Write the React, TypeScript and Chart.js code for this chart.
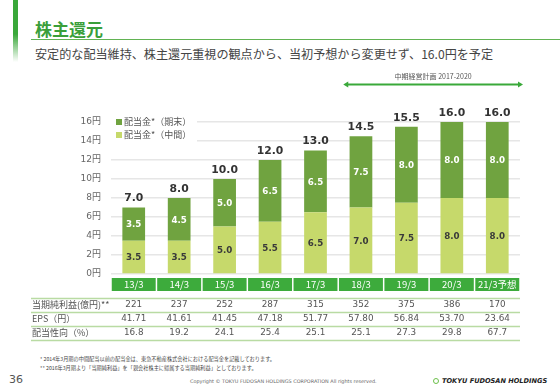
import React, { useEffect, useRef } from "react";
import { Chart, registerables } from "chart.js";

Chart.register(...registerables);

const categories = ["13/3", "14/3", "15/3", "16/3", "17/3", "18/3", "19/3", "20/3", "21/3予想"];
const interimDividend = [3.5, 3.5, 5.0, 5.5, 6.5, 7.0, 7.5, 8.0, 8.0];
const yearEndDividend = [3.5, 4.5, 5.0, 6.5, 6.5, 7.5, 8.0, 8.0, 8.0];
const netIncome = ["221", "237", "252", "287", "315", "352", "375", "386", "170"];
const eps = ["41.71", "41.61", "41.45", "47.18", "51.77", "57.80", "56.84", "53.70", "23.64"];
const payoutRatio = ["16.8", "19.2", "24.1", "25.4", "25.1", "25.1", "27.3", "29.8", "67.7"];
const tableLabels = ["当期純利益(億円)**", "EPS（円）", "配当性向（%）"];
const legendLabels = ["配当金*（期末）", "配当金*（中間）"];
const planLabel = "中期経営計画 2017-2020";
const planFirstIndex = 5;

const DARK = "#70a340";
const LIGHT = "#c6d96b";
const BOX = "#3dab3c";
const FONT = "'DejaVu Sans','Noto Sans CJK JP',sans-serif";
const JFONT = "'Noto Sans CJK JP','DejaVu Sans',sans-serif";

const overlay = {
  id: "overlay",
  afterDatasetsDraw(chart: any) {
    const { ctx, chartArea: a, scales } = chart;
    const x = scales.x;
    const step = x.getPixelForValue(1) - x.getPixelForValue(0);
    ctx.save();
    ctx.textAlign = "center";
    ctx.textBaseline = "middle";

    // segment labels
    chart.data.datasets.forEach((ds: any, di: number) => {
      const meta = chart.getDatasetMeta(di);
      meta.data.forEach((bar: any, i: number) => {
        const p = bar.getProps(["x", "y", "base"], true);
        ctx.font = `bold 8.7px ${FONT}`;
        ctx.fillStyle = di === 0 ? "#3a3a3a" : "#ffffff";
        ctx.fillText(Number(ds.data[i]).toFixed(1), p.x, (p.y + p.base) / 2 + 1);
      });
    });

    // totals
    const topMeta = chart.getDatasetMeta(1);
    topMeta.data.forEach((bar: any, i: number) => {
      const p = bar.getProps(["x", "y"], true);
      const total = interimDividend[i] + yearEndDividend[i];
      ctx.font = `bold 10.8px ${FONT}`;
      ctx.fillStyle = "#333333";
      ctx.fillText(total.toFixed(1), p.x, p.y - 9);
    });

    // legend
    ctx.fillStyle = "#ffffff";
    ctx.fillRect(a.left, a.top - 8, 86, 28);
    const lcolors = [DARK, LIGHT];
    legendLabels.forEach((t, i) => {
      const ly = a.top + i * 13;
      ctx.fillStyle = lcolors[i];
      ctx.fillRect(a.left + 5, ly - 3, 6, 6);
      ctx.fillStyle = "#555555";
      ctx.font = `9px ${JFONT}`;
      ctx.textAlign = "left";
      ctx.fillText(t, a.left + 13, ly);
    });
    ctx.textAlign = "center";

    // category boxes
    categories.forEach((c, i) => {
      const cx = x.getPixelForValue(i);
      ctx.fillStyle = BOX;
      ctx.fillRect(cx - step / 2 + 0.75, a.bottom + 4, step - 1.5, 13);
      ctx.fillStyle = "#ffffff";
      ctx.font = `9.5px ${JFONT}`;
      ctx.fillText(c, cx, a.bottom + 10.5);
    });

    // table
    const rows = [netIncome, eps, payoutRatio];
    const rowY = [a.bottom + 31, a.bottom + 45, a.bottom + 59];
    ctx.strokeStyle = "#b9dba3";
    ctx.lineWidth = 1.5;
    [a.bottom + 24.5, a.bottom + 38.5, a.bottom + 52.5, a.bottom + 66.5].forEach((ly) => {
      ctx.beginPath();
      ctx.moveTo(31, ly);
      ctx.lineTo(a.right, ly);
      ctx.stroke();
    });
    rows.forEach((r, ri) => {
      ctx.textAlign = "left";
      ctx.fillStyle = "#555555";
      ctx.font = `9px ${JFONT}`;
      ctx.fillText(tableLabels[ri], 32, rowY[ri]);
      ctx.textAlign = "center";
      ctx.font = `8.8px ${FONT}`;
      r.forEach((v, i) => {
        ctx.fillText(v, x.getPixelForValue(i), rowY[ri]);
      });
    });

    // mid-term plan arrow
    const ax1 = x.getPixelForValue(planFirstIndex) - step / 2 + 5;
    const ax2 = a.right + 3;
    const ay = 84.5;
    ctx.strokeStyle = "#3aa93a";
    ctx.fillStyle = "#3aa93a";
    ctx.lineWidth = 2;
    ctx.beginPath();
    ctx.moveTo(ax1 + 3, ay);
    ctx.lineTo(ax2 - 3, ay);
    ctx.stroke();
    ctx.beginPath();
    ctx.moveTo(ax1, ay);
    ctx.lineTo(ax1 + 5, ay - 3);
    ctx.lineTo(ax1 + 5, ay + 3);
    ctx.closePath();
    ctx.fill();
    ctx.beginPath();
    ctx.moveTo(ax2, ay);
    ctx.lineTo(ax2 - 5, ay - 3);
    ctx.lineTo(ax2 - 5, ay + 3);
    ctx.closePath();
    ctx.fill();
    ctx.fillStyle = "#555555";
    ctx.font = `7px ${JFONT}`;
    ctx.fillText(planLabel, (ax1 + ax2) / 2, 76);

    ctx.restore();
  },
};

function ChartCanvas() {
  const ref = useRef<HTMLCanvasElement>(null);
  useEffect(() => {
    if (!ref.current) return;
    const chart = new Chart(ref.current, {
      type: "bar",
      data: {
        labels: categories,
        datasets: [
          { label: legendLabels[1], data: interimDividend, backgroundColor: LIGHT, stack: "s" },
          { label: legendLabels[0], data: yearEndDividend, backgroundColor: DARK, stack: "s" },
        ],
      },
      options: {
        animation: false,
        responsive: false,
        maintainAspectRatio: false,
        events: [],
        datasets: { bar: { categoryPercentage: 1, barPercentage: 0.5 } },
        layout: { padding: { top: 122, right: 40, bottom: 76, left: 0 } },
        plugins: { legend: { display: false }, tooltip: { enabled: false }, title: { display: false } },
        scales: {
          x: {
            stacked: true,
            grid: { display: false },
            border: { display: false },
            ticks: { display: false },
            afterFit: (s: any) => {
              s.height = 0;
            },
          },
          y: {
            stacked: true,
            min: 0,
            max: 16,
            ticks: {
              stepSize: 2,
              padding: 10,
              color: "#666666",
              font: { size: 9, family: FONT },
              callback: (v: any) => `${v}円`,
            },
            grid: { color: "#e6e6e6", lineWidth: 1.5, drawTicks: false },
            border: { display: false },
            afterFit: (s: any) => {
              s.width = 111;
            },
          },
        },
      },
      plugins: [overlay],
    } as any);
    return () => chart.destroy();
  }, []);
  return (
    <canvas
      ref={ref}
      width={560}
      height={350}
      style={{ position: "absolute", left: 0, top: 0, width: 560, height: 350 }}
    />
  );
}

export default function App() {
  return (
    <div
      style={{
        position: "fixed",
        left: 0,
        top: 0,
        width: 560,
        height: 388,
        background: "#ffffff",
        overflow: "hidden",
        fontFamily: JFONT,
      }}
    >
      <div
        style={{
          position: "absolute",
          left: 13,
          top: 0,
          width: 5,
          height: 62,
          background: "linear-gradient(to bottom, #3aa83a 0%, #3aa83a 55%, #ffffff 100%)",
        }}
      />
      <div
        style={{
          position: "absolute",
          left: 35,
          top: 18,
          fontSize: 17,
          fontWeight: 700,
          color: "#3a9f3a",
          lineHeight: "22px",
          whiteSpace: "nowrap",
        }}
      >
        株主還元
      </div>
      <div style={{ position: "absolute", left: 31, top: 39, width: 529, height: 1, background: "#62b354" }} />
      <div
        style={{
          position: "absolute",
          left: 35,
          top: 46,
          fontSize: 12.1,
          color: "#444444",
          lineHeight: "16px",
          whiteSpace: "nowrap",
        }}
      >
        安定的な配当維持、株主還元重視の観点から、当初予想から変更せず、16.0円を予定
      </div>
      <ChartCanvas />
      <div
        style={{
          position: "absolute",
          left: 40,
          top: 355,
          fontSize: 5.2,
          color: "#444444",
          lineHeight: "8.5px",
          whiteSpace: "nowrap",
        }}
      >
        <div>* 2014年3月期の中間配当以前の配当金は、東急不動産株式会社における配当金を記載しております。</div>
        <div>** 2016年3月期より「当期純利益」を「親会社株主に帰属する当期純利益」としております。</div>
      </div>
      <div style={{ position: "absolute", left: 9, top: 373, fontSize: 11, color: "#555555", lineHeight: "14px", fontFamily: FONT }}>
        36
      </div>
      <div
        style={{
          position: "absolute",
          left: 190,
          top: 377,
          fontSize: 4.9,
          color: "#666666",
          lineHeight: "8px",
          whiteSpace: "nowrap",
          fontFamily: FONT,
        }}
      >
        Copyright © TOKYU FUDOSAN HOLDINGS CORPORATION All rights reserved.
      </div>
      <div
        style={{
          position: "absolute",
          left: 433,
          top: 378,
          width: 6,
          height: 6,
          borderRadius: "50%",
          border: "1.5px solid #6cc04a",
          boxSizing: "border-box",
        }}
      />
      <div
        style={{
          position: "absolute",
          left: 442,
          top: 376,
          fontSize: 6.6,
          fontWeight: 700,
          fontStyle: "italic",
          color: "#222222",
          lineHeight: "10px",
          whiteSpace: "nowrap",
          fontFamily: FONT,
        }}
      >
        TOKYU FUDOSAN HOLDINGS
      </div>
    </div>
  );
}
